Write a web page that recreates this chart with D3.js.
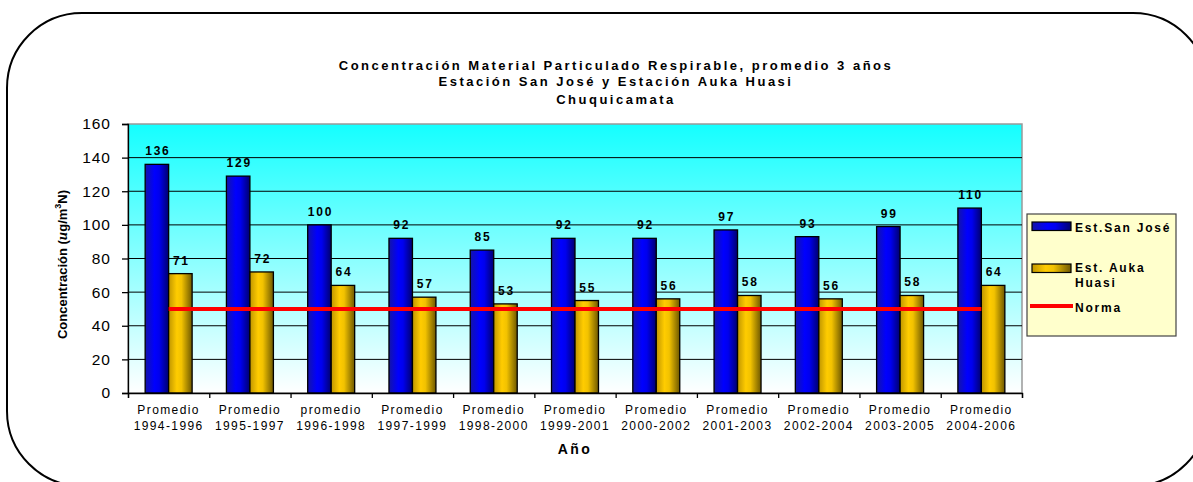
<!DOCTYPE html>
<html>
<head>
<meta charset="utf-8">
<script src="https://cdn.jsdelivr.net/npm/d3@7"></script>
<style>
  body { margin: 0; background: #fff; }
  text { font-family: "Liberation Sans", Arial, sans-serif; fill: #000; }
</style>
</head>
<body>
<svg id="chart" width="1193" height="482"></svg>
<script>
// Three-year averages of PM10 at the two Chuquicamata stations
const periodWord = ["Promedio", "Promedio", "promedio", "Promedio", "Promedio", "Promedio",
                    "Promedio", "Promedio", "Promedio", "Promedio", "Promedio"];
const periodYears = ["1994-1996", "1995-1997", "1996-1998", "1997-1999", "1998-2000", "1999-2001",
                     "2000-2002", "2001-2003", "2002-2004", "2003-2005", "2004-2006"];
const sanJose = [136, 129, 100, 92, 85, 92, 92, 97, 93, 99, 110];
const aukaHuasi = [71, 72, 64, 57, 53, 55, 56, 58, 56, 58, 64];
const norma = 50;
const yTicks = [0, 20, 40, 60, 80, 100, 120, 140, 160];
const titleLines = [
  "Concentración Material Particulado Respirable, promedio 3 años",
  "Estación San José y Estación Auka Huasi",
  "Chuquicamata"
];

const svg = d3.select("#chart");
const plot = { left: 128, right: 1022, top: 124, bottom: 393 };

// ---- gradients ----
const defs = svg.append("defs");
const bg = defs.append("linearGradient").attr("id", "bgGrad")
  .attr("x1", 0).attr("y1", 0).attr("x2", 0).attr("y2", 1);
bg.append("stop").attr("offset", 0).attr("stop-color", "#14ffff");
bg.append("stop").attr("offset", 1).attr("stop-color", "#ffffff");

function barGradient(id, stops) {
  const g = defs.append("linearGradient").attr("id", id)
    .attr("x1", 0).attr("y1", 0).attr("x2", 1).attr("y2", 0);
  stops.forEach(([o, c]) => g.append("stop").attr("offset", o).attr("stop-color", c));
}
barGradient("blueGrad", [[0, "#1414a8"], [0.4, "#0000ff"], [0.6, "#0000ee"], [1, "#00006e"]]);
barGradient("goldGrad", [[0, "#c09600"], [0.35, "#ffcc00"], [0.55, "#f2c200"], [1, "#6e5800"]]);

// ---- outer rounded frame ----
svg.append("rect")
  .attr("x", 7).attr("y", 13).attr("width", 1201).attr("height", 473)
  .attr("rx", 75).attr("ry", 75)
  .attr("fill", "none").attr("stroke", "#000").attr("stroke-width", 2);

// ---- scales ----
const idx = d3.range(sanJose.length);
const x = d3.scaleBand().domain(idx).range([plot.left, plot.right]).padding(0);
const xEdge = d3.scaleLinear().domain([0, sanJose.length]).range([plot.left, plot.right]);
const y = d3.scaleLinear().domain([0, 160]).range([plot.bottom, plot.top]);
const barW = x.bandwidth() * 0.289;
const gap = (x.bandwidth() - 2 * barW) / 2;

// ---- plot area ----
svg.append("rect")
  .attr("x", plot.left).attr("y", plot.top)
  .attr("width", plot.right - plot.left).attr("height", plot.bottom - plot.top)
  .attr("fill", "url(#bgGrad)").attr("stroke", "#999").attr("stroke-width", 1.5);

svg.append("g").selectAll("line")
  .data(yTicks.filter(t => t > 0 && t < 160))
  .join("line")
  .attr("x1", plot.left).attr("x2", plot.right)
  .attr("y1", d => y(d)).attr("y2", d => y(d))
  .attr("stroke", "#000").attr("stroke-width", 1);

// ---- bars ----
const bars = svg.append("g");
bars.selectAll(".sj").data(sanJose).join("rect").attr("class", "sj")
  .attr("x", (d, i) => x(i) + gap).attr("y", d => y(d))
  .attr("width", barW).attr("height", d => y(0) - y(d))
  .attr("fill", "url(#blueGrad)").attr("stroke", "#000").attr("stroke-width", 1.3);
bars.selectAll(".ah").data(aukaHuasi).join("rect").attr("class", "ah")
  .attr("x", (d, i) => x(i) + gap + barW).attr("y", d => y(d))
  .attr("width", barW).attr("height", d => y(0) - y(d))
  .attr("fill", "url(#goldGrad)").attr("stroke", "#000").attr("stroke-width", 1.3);

// ---- norm line ----
const normLine = d3.line().x(d => x(d) + x.bandwidth() / 2).y(() => y(norma));
svg.append("path").datum(idx).attr("d", normLine)
  .attr("fill", "none").attr("stroke", "#ff0000").attr("stroke-width", 4);

// ---- value labels ----
const labelStyle = s => s.attr("font-size", 12).attr("font-weight", "bold")
  .attr("text-anchor", "middle").style("letter-spacing", "1.8px");
svg.append("g").selectAll("text").data(sanJose).join("text")
  .attr("x", (d, i) => x(i) + gap + barW / 2 + 1).attr("y", d => y(d) - 9)
  .text(d => d).call(labelStyle);
svg.append("g").selectAll("text").data(aukaHuasi).join("text")
  .attr("x", (d, i) => x(i) + gap + barW * 1.5 + 1).attr("y", d => y(d) - 9)
  .text(d => d).call(labelStyle);

// ---- axes ----
const yAxis = svg.append("g").attr("transform", `translate(${plot.left},0)`)
  .call(d3.axisLeft(y).tickValues(yTicks).tickSize(6).tickPadding(11).tickFormat(d3.format("d")));
yAxis.select(".domain").attr("stroke", "#000").attr("stroke-width", 1.3);
yAxis.selectAll(".tick line").attr("stroke", "#000").attr("stroke-width", 1.3);
yAxis.selectAll(".tick text").attr("font-size", 15.5).attr("font-family", "Liberation Sans, Arial, sans-serif")
  .style("letter-spacing", "1px");

const xAxis = svg.append("g").attr("transform", `translate(0,${plot.bottom})`)
  .call(d3.axisBottom(xEdge).tickValues(d3.range(sanJose.length + 1)).tickSize(5).tickFormat(""));
xAxis.select(".domain").attr("stroke", "#000").attr("stroke-width", 1.3);
xAxis.selectAll(".tick line").attr("stroke", "#000").attr("stroke-width", 1.3);

const xLabels = svg.append("g").selectAll("text").data(idx).join("text")
  .attr("x", d => x(d) + x.bandwidth() / 2)
  .attr("text-anchor", "middle").attr("font-size", 12).style("letter-spacing", "1.4px");
xLabels.append("tspan").attr("x", d => x(d) + x.bandwidth() / 2).attr("y", 414).text(d => periodWord[d]);
xLabels.append("tspan").attr("x", d => x(d) + x.bandwidth() / 2).attr("y", 430).text(d => periodYears[d]);

// ---- axis titles ----
svg.append("text").attr("x", (plot.left + plot.right) / 2).attr("y", 454)
  .attr("text-anchor", "middle").attr("font-size", 14).attr("font-weight", "bold")
  .style("letter-spacing", "2.5px").text("Año");

const yTitle = svg.append("text")
  .attr("transform", `translate(67,${(plot.top + plot.bottom) / 2 + 6}) rotate(-90)`)
  .attr("text-anchor", "middle").attr("font-size", 13).attr("font-weight", "bold");
yTitle.append("tspan").text("Concentración (");
yTitle.append("tspan").attr("font-style", "italic").attr("font-family", "Liberation Serif, serif").attr("font-size", 15).text("u");
yTitle.append("tspan").text("g/m");
yTitle.append("tspan").attr("font-size", 9).attr("dy", -6).text("3");
yTitle.append("tspan").attr("dy", 6).text("N)");

// ---- chart title ----
svg.append("g").selectAll("text").data(titleLines).join("text")
  .attr("x", 616).attr("y", (d, i) => [70, 86, 104][i])
  .attr("text-anchor", "middle").attr("font-size", 13).attr("font-weight", "bold")
  .style("letter-spacing", "2.5px").text(d => d);

// ---- legend ----
const lg = svg.append("g");
lg.append("rect").attr("x", 1027).attr("y", 214).attr("width", 149).attr("height", 122)
  .attr("fill", "#ffffcc").attr("stroke", "#444").attr("stroke-width", 1.2);
const legendItems = [
  { type: "bar", fill: "url(#blueGrad)", lines: ["Est.San José"], sy: 222, ty: 232 },
  { type: "bar", fill: "url(#goldGrad)", lines: ["Est. Auka", "Huasi"], sy: 264, ty: 272 },
  { type: "line", lines: ["Norma"], sy: 306, ty: 312 }
];
legendItems.forEach(it => {
  if (it.type === "bar") {
    lg.append("rect").attr("x", 1032).attr("y", it.sy).attr("width", 39).attr("height", 8.5)
      .attr("fill", it.fill).attr("stroke", "#000").attr("stroke-width", 1.2);
  } else {
    lg.append("line").attr("x1", 1030).attr("x2", 1073).attr("y1", it.sy).attr("y2", it.sy)
      .attr("stroke", "#ff0000").attr("stroke-width", 4);
  }
  const t = lg.append("text").attr("font-size", 12).attr("font-weight", "bold").style("letter-spacing", "1.8px");
  it.lines.forEach((l, k) => t.append("tspan").attr("x", 1075).attr("y", it.ty + k * 15).text(l));
});
</script>
</body>
</html>
